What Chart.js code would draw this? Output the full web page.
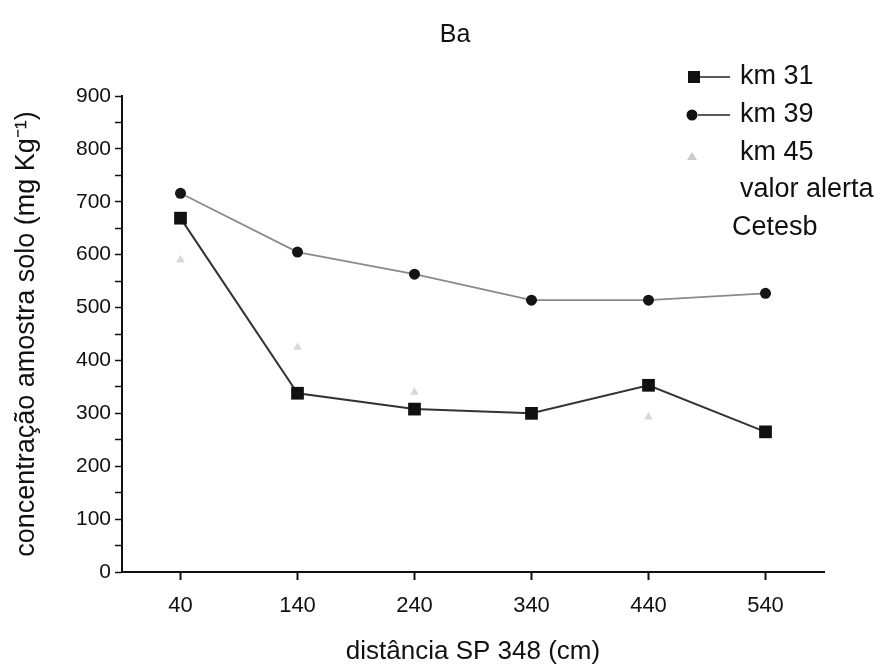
<!DOCTYPE html>
<html>
<head>
<meta charset="utf-8">
<script src="https://cdn.jsdelivr.net/npm/chart.js@4.4.1/dist/chart.umd.min.js"></script>
<style>
  html, body { margin: 0; padding: 0; background: #fff; }
  #wrap { width: 881px; height: 667px; }
</style>
</head>
<body>
<div id="wrap"><canvas id="baChart" width="881" height="667"></canvas></div>
<script>
// distance from SP 348 (cm)
var distances = ["40", "140", "240", "340", "440", "540"];

// Ba concentration (mg Kg-1) per km
var km31 = [669, 338, 308, 300, 353, 265];
var km39 = [716, 605, 563, 514, 514, 527];
var km45 = [590, 425, 340, null, 293, null];

var yTicks = [0, 100, 200, 300, 400, 500, 600, 700, 800, 900];

var FONT = "'Liberation Sans', Arial, sans-serif";

/**
 * Title and legend drawn on top of the chart
 */
var extrasPlugin = {
    id: 'extras',
    afterDraw: function(chart) {
        var ctx = chart.ctx;
        ctx.save();
        ctx.fillStyle = '#111';
        ctx.textBaseline = 'middle';
        ctx.font = '25px ' + FONT;
        ctx.textAlign = 'center';
        ctx.fillText('Ba', 455, 35);

        ctx.font = '27px ' + FONT;
        ctx.textAlign = 'left';
        // km 31
        ctx.fillStyle = '#111';
        ctx.fillRect(688, 71, 12, 12);
        ctx.strokeStyle = '#222';
        ctx.lineWidth = 1.5;
        ctx.beginPath(); ctx.moveTo(700, 77); ctx.lineTo(730, 77); ctx.stroke();
        ctx.fillText('km 31', 740, 77);
        // km 39
        ctx.beginPath(); ctx.arc(692, 115, 5.5, 0, Math.PI * 2); ctx.fill();
        ctx.beginPath(); ctx.moveTo(698, 115); ctx.lineTo(730, 115); ctx.stroke();
        ctx.fillText('km 39', 740, 115);
        // km 45
        ctx.fillStyle = '#ccc';
        ctx.beginPath(); ctx.moveTo(692, 152); ctx.lineTo(697, 160); ctx.lineTo(687, 160); ctx.closePath(); ctx.fill();
        ctx.fillStyle = '#111';
        ctx.fillText('km 45', 740, 153);
        ctx.fillText('valor alerta', 740, 190);
        ctx.fillText('Cetesb', 732, 228);
        ctx.restore();
    }
};

var baData = {
    labels: distances,
    datasets: [
        {
            label: "km 31",
            data: km31,
            borderColor: "#333333",
            backgroundColor: "#111111",
            borderWidth: 2,
            pointStyle: 'rect',
            pointRadius: 9,
            pointBorderWidth: 0,
            tension: 0
        },
        {
            label: "km 39",
            data: km39,
            borderColor: "#8a8a8a",
            backgroundColor: "#151515",
            borderWidth: 1.8,
            pointStyle: 'circle',
            pointRadius: 5.5,
            pointBorderWidth: 0,
            tension: 0
        },
        {
            label: "km 45",
            data: km45,
            showLine: false,
            borderColor: "#d8d8d8",
            backgroundColor: "#d8d8d8",
            pointStyle: 'triangle',
            pointRadius: 5,
            pointBorderWidth: 0
        }
    ]
};

var baOptions = {
    responsive: false,
    animation: false,
    layout: { padding: { top: 96, left: 10, right: 57, bottom: 0 } },
    plugins: {
        legend: { display: false },
        title: { display: false },
        tooltip: { enabled: false }
    },
    scales: {
        x: {
            type: 'category',
            offset: true,
            grid: { drawOnChartArea: false, drawTicks: true, tickLength: 8, color: '#111', tickWidth: 2 },
            border: { display: true, color: '#111', width: 2 },
            ticks: { color: '#111', font: { family: FONT, size: 22 }, padding: 13, maxRotation: 0 },
            title: { display: true, text: 'distância SP 348 (cm)', color: '#111', font: { family: FONT, size: 26 }, padding: { top: 8, bottom: 0 } },
            afterFit: function(scale) { scale.height = 95; }
        },
        y: {
            min: 0,
            max: 900,
            grid: { drawOnChartArea: false, drawTicks: true, tickLength: 7, color: '#111', tickWidth: 1.5 },
            border: { display: true, color: '#111', width: 2 },
            ticks: {
                stepSize: 50,
                autoSkip: false,
                color: '#111',
                font: { family: FONT, size: 21 },
                padding: 4,
                callback: function(value) { return yTicks.indexOf(value) >= 0 ? value : ''; }
            },
            title: { display: true, text: 'concentração amostra solo (mg Kg⁻¹)', color: '#111', font: { family: FONT, size: 27 }, padding: { top: 0, bottom: 8 } },
            afterFit: function(scale) { scale.width = 112; }
        }
    }
};

var ctx = document.getElementById("baChart").getContext("2d");
new Chart(ctx, { type: 'line', data: baData, options: baOptions, plugins: [extrasPlugin] });
</script>
</body>
</html>
